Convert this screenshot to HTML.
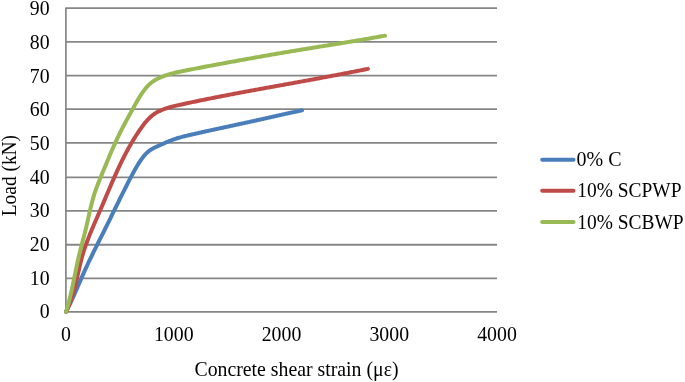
<!DOCTYPE html>
<html><head><meta charset="utf-8"><style>
html,body{margin:0;padding:0;background:#fff;}
svg{display:block;will-change:transform;}
text{font-family:"Liberation Serif",serif;font-size:19.8px;fill:#000;}
</style></head><body>
<svg width="685" height="382" viewBox="0 0 685 382">
<line x1="66.0" y1="278.40" x2="497.0" y2="278.40" stroke="#868686" stroke-width="1.8"/>
<line x1="66.0" y1="244.75" x2="497.0" y2="244.75" stroke="#868686" stroke-width="1.8"/>
<line x1="66.0" y1="210.90" x2="497.0" y2="210.90" stroke="#868686" stroke-width="1.8"/>
<line x1="66.0" y1="177.40" x2="497.0" y2="177.40" stroke="#868686" stroke-width="1.8"/>
<line x1="66.0" y1="142.80" x2="497.0" y2="142.80" stroke="#868686" stroke-width="1.8"/>
<line x1="66.0" y1="109.20" x2="497.0" y2="109.20" stroke="#868686" stroke-width="1.8"/>
<line x1="66.0" y1="75.60" x2="497.0" y2="75.60" stroke="#868686" stroke-width="1.8"/>
<line x1="66.0" y1="41.80" x2="497.0" y2="41.80" stroke="#868686" stroke-width="1.8"/>
<line x1="66.0" y1="8.20" x2="497.0" y2="8.20" stroke="#868686" stroke-width="1.8"/>
<line x1="65.9" y1="7.5" x2="65.9" y2="312.60" stroke="#868686" stroke-width="1.7"/>
<line x1="66.0" y1="311.80" x2="497.0" y2="311.80" stroke="#868686" stroke-width="1.8"/>
<text transform="translate(49.60,318.35) scale(1,1.06)" text-anchor="end">0</text>
<text transform="translate(49.60,284.66) scale(1,1.06)" text-anchor="end">10</text>
<text transform="translate(49.60,250.97) scale(1,1.06)" text-anchor="end">20</text>
<text transform="translate(49.60,217.28) scale(1,1.06)" text-anchor="end">30</text>
<text transform="translate(49.60,183.59) scale(1,1.06)" text-anchor="end">40</text>
<text transform="translate(49.60,149.90) scale(1,1.06)" text-anchor="end">50</text>
<text transform="translate(49.60,116.21) scale(1,1.06)" text-anchor="end">60</text>
<text transform="translate(49.60,82.52) scale(1,1.06)" text-anchor="end">70</text>
<text transform="translate(49.60,48.83) scale(1,1.06)" text-anchor="end">80</text>
<text transform="translate(49.60,15.14) scale(1,1.06)" text-anchor="end">90</text>
<text transform="translate(66.00,341.00) scale(1,1.03)" text-anchor="middle">0</text>
<text transform="translate(173.75,341.00) scale(1,1.03)" text-anchor="middle">1000</text>
<text transform="translate(281.50,341.00) scale(1,1.03)" text-anchor="middle">2000</text>
<text transform="translate(389.25,341.00) scale(1,1.03)" text-anchor="middle">3000</text>
<text transform="translate(497.00,341.00) scale(1,1.03)" text-anchor="middle">4000</text>
<text transform="translate(296.50,375.80) scale(1,1.02)" text-anchor="middle">Concrete shear strain (με)</text>
<text transform="translate(15.7,175.6) rotate(-90) scale(1,1.1)" text-anchor="middle" style="font-size:19.4px">Load (kN)</text>
<path d="M66.01,311.81 L66.41,311.04 L66.81,310.28 L67.20,309.51 L67.59,308.74 L67.97,307.98 L68.36,307.21 L68.74,306.44 L69.11,305.67 L69.49,304.90 L69.86,304.13 L70.23,303.35 L70.60,302.58 L70.96,301.81 L71.32,301.04 L71.68,300.26 L72.04,299.49 L72.40,298.71 L72.75,297.94 L73.11,297.16 L73.46,296.39 L73.81,295.61 L74.15,294.83 L74.50,294.06 L74.85,293.28 L75.19,292.50 L75.53,291.72 L75.88,290.95 L76.22,290.17 L76.56,289.39 L76.90,288.61 L77.24,287.83 L77.57,287.05 L77.91,286.27 L78.25,285.49 L78.59,284.71 L78.92,283.94 L79.26,283.16 L79.60,282.38 L79.94,281.60 L80.27,280.82 L80.61,280.04 L80.95,279.26 L81.29,278.48 L81.63,277.70 L81.97,276.93 L82.31,276.15 L82.65,275.37 L82.99,274.59 L83.34,273.82 L83.68,273.04 L84.03,272.26 L84.37,271.49 L84.72,270.71 L85.07,269.93 L85.43,269.16 L85.78,268.38 L86.13,267.61 L86.49,266.84 L86.85,266.06 L87.21,265.29 L87.57,264.52 L87.93,263.74 L88.29,262.97 L88.66,262.20 L89.03,261.43 L89.39,260.66 L89.76,259.89 L90.13,259.11 L90.50,258.34 L90.87,257.57 L91.24,256.81 L91.62,256.04 L91.99,255.27 L92.37,254.50 L92.74,253.73 L93.12,252.96 L93.50,252.19 L93.87,251.43 L94.25,250.66 L94.63,249.89 L95.01,249.12 L95.39,248.36 L95.77,247.59 L96.15,246.82 L96.54,246.06 L96.92,245.29 L97.30,244.53 L97.68,243.76 L98.07,242.99 L98.45,242.23 L98.83,241.46 L99.22,240.70 L99.60,239.93 L99.98,239.17 L100.37,238.41 L100.75,237.64 L101.13,236.88 L101.52,236.11 L101.90,235.35 L102.29,234.58 L102.67,233.82 L103.05,233.06 L103.43,232.29 L103.82,231.53 L104.20,230.77 L104.58,230.00 L104.96,229.24 L105.34,228.47 L105.72,227.71 L106.10,226.95 L106.48,226.18 L106.86,225.42 L107.23,224.66 L107.61,223.89 L107.99,223.13 L108.36,222.37 L108.74,221.60 L109.12,220.84 L109.49,220.08 L109.87,219.31 L110.24,218.55 L110.62,217.79 L110.99,217.02 L111.37,216.26 L111.74,215.50 L112.11,214.73 L112.49,213.97 L112.86,213.21 L113.23,212.45 L113.61,211.68 L113.98,210.92 L114.36,210.16 L114.73,209.39 L115.10,208.63 L115.48,207.87 L115.85,207.10 L116.22,206.34 L116.60,205.58 L116.97,204.81 L117.35,204.05 L117.72,203.29 L118.10,202.53 L118.47,201.76 L118.85,201.00 L119.23,200.24 L119.60,199.47 L119.98,198.71 L120.36,197.95 L120.74,197.19 L121.11,196.42 L121.49,195.66 L121.87,194.90 L122.25,194.13 L122.63,193.37 L123.01,192.61 L123.40,191.85 L123.78,191.08 L124.16,190.32 L124.55,189.56 L124.93,188.79 L125.32,188.03 L125.70,187.27 L126.09,186.51 L126.48,185.74 L126.87,184.98 L127.26,184.22 L127.65,183.46 L128.04,182.69 L128.43,181.93 L128.82,181.17 L129.22,180.40 L129.62,179.64 L130.01,178.88 L130.41,178.12 L130.81,177.35 L131.21,176.59 L131.61,175.83 L132.01,175.07 L132.42,174.30 L132.83,173.54 L133.24,172.78 L133.65,172.03 L134.06,171.27 L134.48,170.52 L134.90,169.76 L135.32,169.01 L135.75,168.26 L136.18,167.52 L136.61,166.78 L137.05,166.04 L137.50,165.30 L137.94,164.57 L138.40,163.84 L138.85,163.12 L139.31,162.39 L139.78,161.68 L140.26,160.97 L140.73,160.26 L141.22,159.56 L141.71,158.87 L142.22,158.19 L142.73,157.51 L143.25,156.85 L143.78,156.20 L144.32,155.56 L144.87,154.93 L145.44,154.31 L146.02,153.71 L146.61,153.12 L147.21,152.55 L147.83,152.00 L148.47,151.47 L149.12,150.95 L149.78,150.45 L150.47,149.97 L151.17,149.52 L151.88,149.08 L152.61,148.65 L153.36,148.24 L154.11,147.85 L154.87,147.46 L155.65,147.09 L156.42,146.72 L157.21,146.36 L158.00,146.01 L158.79,145.66 L159.58,145.31 L160.37,144.96 L161.17,144.60 L161.96,144.25 L162.75,143.90 L163.54,143.56 L164.34,143.21 L165.13,142.86 L165.92,142.52 L166.72,142.18 L167.51,141.85 L168.31,141.52 L169.11,141.19 L169.90,140.87 L170.70,140.55 L171.50,140.24 L172.31,139.94 L173.11,139.64 L173.91,139.35 L174.72,139.07 L175.53,138.80 L176.34,138.53 L177.15,138.28 L177.96,138.03 L178.78,137.79 L179.60,137.55 L180.42,137.32 L181.23,137.10 L182.06,136.88 L182.88,136.66 L183.70,136.45 L184.52,136.25 L185.35,136.05 L186.17,135.85 L187.00,135.65 L187.83,135.45 L188.65,135.26 L189.48,135.07 L190.31,134.88 L191.14,134.69 L191.97,134.50 L192.80,134.31 L193.63,134.12 L194.46,133.93 L195.29,133.74 L196.12,133.55 L196.95,133.37 L197.78,133.18 L198.61,132.99 L199.44,132.80 L200.27,132.62 L201.10,132.43 L201.93,132.25 L202.76,132.06 L203.60,131.88 L204.43,131.69 L205.26,131.51 L206.09,131.32 L206.93,131.14 L207.76,130.96 L208.59,130.77 L209.43,130.59 L210.26,130.41 L211.09,130.22 L211.93,130.04 L212.76,129.86 L213.60,129.68 L214.43,129.49 L215.26,129.31 L216.10,129.13 L216.93,128.95 L217.77,128.77 L218.60,128.59 L219.44,128.41 L220.27,128.23 L221.11,128.05 L221.94,127.86 L222.78,127.68 L223.61,127.50 L224.45,127.32 L225.28,127.14 L226.12,126.96 L226.95,126.78 L227.79,126.60 L228.63,126.42 L229.46,126.24 L230.30,126.06 L231.13,125.88 L231.97,125.70 L232.80,125.52 L233.64,125.34 L234.47,125.16 L235.31,124.98 L236.15,124.80 L236.98,124.62 L237.82,124.44 L238.65,124.26 L239.49,124.08 L240.32,123.90 L241.16,123.72 L241.99,123.54 L242.83,123.36 L243.66,123.18 L244.50,123.00 L245.33,122.82 L246.17,122.63 L247.00,122.45 L247.84,122.27 L248.67,122.09 L249.51,121.91 L250.34,121.72 L251.18,121.54 L252.01,121.36 L252.85,121.18 L253.68,120.99 L254.51,120.81 L255.35,120.62 L256.18,120.44 L257.01,120.26 L257.85,120.07 L258.68,119.89 L259.51,119.70 L260.35,119.52 L261.18,119.33 L262.01,119.14 L262.84,118.96 L263.67,118.77 L264.51,118.58 L265.34,118.40 L266.17,118.21 L267.00,118.02 L267.83,117.84 L268.66,117.65 L269.50,117.46 L270.33,117.27 L271.16,117.09 L271.99,116.90 L272.82,116.71 L273.65,116.52 L274.48,116.34 L275.32,116.15 L276.15,115.96 L276.98,115.77 L277.81,115.59 L278.64,115.40 L279.47,115.22 L280.31,115.03 L281.14,114.84 L281.97,114.66 L282.80,114.47 L283.64,114.29 L284.47,114.11 L285.30,113.92 L286.14,113.74 L286.97,113.56 L287.80,113.38 L288.64,113.19 L289.47,113.01 L290.31,112.83 L291.14,112.65 L291.98,112.48 L292.81,112.30 L293.65,112.12 L294.48,111.94 L295.32,111.77 L296.16,111.59 L296.99,111.42 L297.83,111.24 L298.67,111.07 L299.51,110.90 L300.35,110.73 L301.19,110.56 L302.03,110.39" fill="none" stroke="#4A7EBB" stroke-width="4.0" stroke-linecap="round" stroke-linejoin="round"/>
<path d="M65.99,311.79 L66.48,310.81 L66.96,309.82 L67.43,308.82 L67.88,307.82 L68.33,306.82 L68.76,305.81 L69.17,304.80 L69.58,303.78 L69.98,302.76 L70.36,301.73 L70.73,300.71 L71.10,299.67 L71.45,298.64 L71.80,297.60 L72.13,296.55 L72.46,295.51 L72.78,294.46 L73.10,293.41 L73.40,292.35 L73.70,291.29 L73.99,290.24 L74.28,289.17 L74.56,288.11 L74.83,287.04 L75.10,285.98 L75.37,284.91 L75.63,283.84 L75.89,282.77 L76.15,281.69 L76.40,280.62 L76.65,279.55 L76.90,278.47 L77.14,277.39 L77.39,276.32 L77.63,275.24 L77.87,274.16 L78.12,273.09 L78.36,272.01 L78.60,270.94 L78.85,269.86 L79.10,268.79 L79.35,267.71 L79.60,266.64 L79.85,265.57 L80.11,264.50 L80.37,263.43 L80.63,262.36 L80.90,261.29 L81.17,260.23 L81.45,259.17 L81.73,258.11 L82.02,257.05 L82.32,255.99 L82.62,254.94 L82.93,253.89 L83.24,252.84 L83.57,251.80 L83.90,250.76 L84.23,249.72 L84.57,248.68 L84.92,247.65 L85.27,246.61 L85.63,245.58 L86.00,244.56 L86.36,243.53 L86.74,242.50 L87.12,241.48 L87.50,240.46 L87.89,239.44 L88.28,238.42 L88.68,237.41 L89.08,236.39 L89.48,235.38 L89.89,234.37 L90.30,233.35 L90.71,232.34 L91.13,231.34 L91.55,230.33 L91.97,229.32 L92.40,228.31 L92.82,227.31 L93.25,226.30 L93.68,225.30 L94.11,224.29 L94.55,223.29 L94.98,222.28 L95.42,221.28 L95.85,220.27 L96.29,219.27 L96.73,218.27 L97.17,217.26 L97.60,216.26 L98.04,215.25 L98.48,214.25 L98.92,213.24 L99.35,212.24 L99.79,211.23 L100.22,210.22 L100.66,209.21 L101.09,208.20 L101.52,207.19 L101.95,206.18 L102.39,205.17 L102.82,204.16 L103.24,203.15 L103.67,202.14 L104.10,201.13 L104.53,200.11 L104.96,199.10 L105.39,198.09 L105.82,197.08 L106.24,196.06 L106.67,195.05 L107.10,194.04 L107.53,193.02 L107.96,192.01 L108.39,191.00 L108.82,189.98 L109.25,188.97 L109.68,187.96 L110.12,186.95 L110.55,185.94 L110.98,184.93 L111.42,183.92 L111.86,182.91 L112.29,181.90 L112.73,180.89 L113.17,179.88 L113.62,178.87 L114.06,177.87 L114.50,176.86 L114.95,175.86 L115.40,174.86 L115.85,173.85 L116.30,172.85 L116.76,171.85 L117.21,170.85 L117.67,169.85 L118.13,168.86 L118.60,167.86 L119.06,166.87 L119.53,165.88 L120.00,164.88 L120.47,163.89 L120.95,162.91 L121.43,161.92 L121.91,160.93 L122.40,159.95 L122.88,158.97 L123.38,157.99 L123.87,157.01 L124.37,156.04 L124.87,155.06 L125.37,154.09 L125.88,153.12 L126.39,152.15 L126.91,151.19 L127.43,150.22 L127.95,149.26 L128.48,148.30 L129.01,147.35 L129.55,146.39 L130.09,145.44 L130.63,144.49 L131.18,143.54 L131.73,142.60 L132.29,141.66 L132.85,140.72 L133.42,139.78 L133.99,138.85 L134.56,137.92 L135.15,136.99 L135.73,136.06 L136.32,135.14 L136.92,134.22 L137.52,133.31 L138.13,132.39 L138.74,131.48 L139.36,130.58 L139.98,129.67 L140.61,128.77 L141.25,127.88 L141.89,126.98 L142.54,126.10 L143.19,125.21 L143.86,124.34 L144.53,123.48 L145.22,122.62 L145.92,121.78 L146.63,120.96 L147.35,120.15 L148.09,119.35 L148.85,118.57 L149.62,117.81 L150.41,117.08 L151.21,116.36 L152.04,115.67 L152.89,115.00 L153.76,114.36 L154.65,113.75 L155.56,113.16 L156.49,112.60 L157.44,112.07 L158.41,111.56 L159.39,111.07 L160.39,110.60 L161.40,110.16 L162.42,109.74 L163.45,109.34 L164.48,108.95 L165.52,108.59 L166.57,108.24 L167.62,107.90 L168.68,107.58 L169.74,107.28 L170.81,106.98 L171.87,106.70 L172.95,106.43 L174.02,106.16 L175.10,105.90 L176.17,105.65 L177.25,105.41 L178.33,105.16 L179.41,104.92 L180.49,104.69 L181.57,104.45 L182.65,104.21 L183.73,103.98 L184.81,103.74 L185.89,103.51 L186.97,103.28 L188.05,103.05 L189.13,102.82 L190.21,102.59 L191.28,102.36 L192.36,102.13 L193.44,101.90 L194.52,101.68 L195.60,101.45 L196.67,101.23 L197.75,101.00 L198.83,100.78 L199.91,100.56 L200.98,100.33 L202.06,100.11 L203.14,99.89 L204.21,99.67 L205.29,99.46 L206.37,99.24 L207.44,99.02 L208.52,98.80 L209.60,98.59 L210.67,98.37 L211.75,98.16 L212.82,97.94 L213.90,97.73 L214.98,97.52 L216.05,97.31 L217.13,97.09 L218.20,96.88 L219.28,96.67 L220.35,96.46 L221.43,96.25 L222.50,96.05 L223.58,95.84 L224.65,95.63 L225.73,95.42 L226.80,95.22 L227.88,95.01 L228.95,94.81 L230.03,94.60 L231.10,94.40 L232.18,94.19 L233.25,93.99 L234.33,93.78 L235.40,93.58 L236.48,93.38 L237.55,93.18 L238.63,92.98 L239.70,92.77 L240.77,92.57 L241.85,92.37 L242.92,92.17 L244.00,91.97 L245.07,91.77 L246.15,91.57 L247.22,91.38 L248.30,91.18 L249.37,90.98 L250.45,90.78 L251.52,90.58 L252.60,90.39 L253.67,90.19 L254.75,89.99 L255.82,89.80 L256.90,89.60 L257.97,89.40 L259.05,89.21 L260.12,89.01 L261.20,88.81 L262.27,88.62 L263.35,88.42 L264.42,88.23 L265.50,88.03 L266.57,87.84 L267.65,87.64 L268.73,87.45 L269.80,87.25 L270.88,87.06 L271.95,86.86 L273.03,86.67 L274.11,86.48 L275.18,86.28 L276.26,86.09 L277.33,85.89 L278.41,85.70 L279.49,85.50 L280.56,85.31 L281.64,85.11 L282.72,84.92 L283.80,84.73 L284.87,84.53 L285.95,84.34 L287.03,84.14 L288.11,83.95 L289.18,83.75 L290.26,83.56 L291.34,83.36 L292.42,83.17 L293.50,82.97 L294.58,82.78 L295.66,82.58 L296.73,82.38 L297.81,82.19 L298.89,81.99 L299.97,81.79 L301.05,81.60 L302.13,81.40 L303.21,81.20 L304.29,81.01 L305.37,80.81 L306.45,80.61 L307.54,80.41 L308.62,80.21 L309.70,80.02 L310.78,79.82 L311.86,79.62 L312.94,79.42 L314.02,79.22 L315.10,79.02 L316.18,78.82 L317.27,78.62 L318.35,78.42 L319.43,78.22 L320.51,78.02 L321.59,77.82 L322.67,77.62 L323.75,77.41 L324.83,77.21 L325.92,77.01 L327.00,76.81 L328.08,76.60 L329.16,76.40 L330.24,76.20 L331.32,75.99 L332.40,75.79 L333.48,75.59 L334.56,75.38 L335.64,75.18 L336.72,74.97 L337.80,74.77 L338.88,74.56 L339.96,74.35 L341.03,74.15 L342.11,73.94 L343.19,73.74 L344.27,73.53 L345.35,73.32 L346.42,73.11 L347.50,72.91 L348.58,72.70 L349.65,72.49 L350.73,72.28 L351.81,72.07 L352.88,71.86 L353.96,71.65 L355.03,71.44 L356.10,71.23 L357.18,71.02 L358.25,70.81 L359.32,70.60 L360.40,70.38 L361.47,70.17 L362.54,69.96 L363.61,69.75 L364.68,69.53 L365.75,69.32 L366.82,69.11 L367.89,68.89" fill="none" stroke="#BE4B48" stroke-width="4.0" stroke-linecap="round" stroke-linejoin="round"/>
<path d="M66.00,311.80 L66.37,310.64 L66.73,309.47 L67.08,308.30 L67.42,307.14 L67.75,305.96 L68.08,304.79 L68.40,303.62 L68.72,302.44 L69.03,301.26 L69.33,300.08 L69.63,298.90 L69.92,297.71 L70.21,296.53 L70.49,295.34 L70.77,294.16 L71.04,292.97 L71.31,291.78 L71.58,290.59 L71.84,289.40 L72.10,288.21 L72.36,287.01 L72.61,285.82 L72.86,284.63 L73.11,283.43 L73.36,282.24 L73.60,281.04 L73.85,279.85 L74.09,278.65 L74.33,277.46 L74.58,276.26 L74.82,275.06 L75.06,273.87 L75.31,272.67 L75.55,271.48 L75.79,270.28 L76.04,269.09 L76.29,267.89 L76.54,266.70 L76.79,265.51 L77.04,264.32 L77.30,263.13 L77.55,261.93 L77.82,260.75 L78.08,259.56 L78.35,258.37 L78.62,257.18 L78.90,256.00 L79.18,254.82 L79.47,253.63 L79.76,252.45 L80.05,251.27 L80.35,250.10 L80.65,248.92 L80.95,247.74 L81.25,246.56 L81.56,245.39 L81.87,244.21 L82.18,243.04 L82.49,241.86 L82.80,240.69 L83.11,239.51 L83.42,238.33 L83.72,237.16 L84.03,235.98 L84.34,234.80 L84.64,233.62 L84.94,232.44 L85.24,231.26 L85.53,230.08 L85.82,228.89 L86.11,227.71 L86.39,226.52 L86.66,225.33 L86.94,224.14 L87.21,222.95 L87.48,221.76 L87.75,220.57 L88.01,219.37 L88.28,218.18 L88.54,216.98 L88.81,215.79 L89.07,214.60 L89.34,213.40 L89.61,212.21 L89.88,211.02 L90.16,209.83 L90.43,208.64 L90.71,207.45 L91.00,206.26 L91.29,205.08 L91.58,203.89 L91.88,202.71 L92.19,201.53 L92.50,200.36 L92.83,199.18 L93.15,198.01 L93.49,196.84 L93.84,195.68 L94.19,194.51 L94.56,193.36 L94.93,192.20 L95.32,191.05 L95.71,189.90 L96.12,188.76 L96.54,187.62 L96.97,186.49 L97.40,185.35 L97.85,184.22 L98.30,183.09 L98.75,181.97 L99.21,180.84 L99.67,179.72 L100.14,178.59 L100.60,177.47 L101.06,176.34 L101.53,175.21 L101.99,174.08 L102.45,172.96 L102.91,171.83 L103.38,170.70 L103.84,169.57 L104.30,168.44 L104.77,167.31 L105.23,166.18 L105.70,165.05 L106.16,163.92 L106.63,162.79 L107.10,161.66 L107.57,160.54 L108.04,159.41 L108.51,158.28 L108.99,157.16 L109.46,156.03 L109.94,154.91 L110.42,153.78 L110.90,152.66 L111.38,151.54 L111.87,150.42 L112.35,149.30 L112.84,148.18 L113.34,147.07 L113.83,145.95 L114.33,144.84 L114.83,143.73 L115.34,142.62 L115.85,141.51 L116.36,140.41 L116.87,139.30 L117.39,138.20 L117.91,137.10 L118.44,136.01 L118.97,134.91 L119.50,133.82 L120.04,132.74 L120.59,131.65 L121.13,130.57 L121.68,129.49 L122.24,128.41 L122.80,127.33 L123.36,126.26 L123.93,125.19 L124.50,124.12 L125.07,123.05 L125.64,121.98 L126.22,120.91 L126.80,119.85 L127.38,118.78 L127.96,117.72 L128.55,116.65 L129.13,115.58 L129.72,114.52 L130.31,113.45 L130.90,112.38 L131.49,111.32 L132.08,110.25 L132.67,109.18 L133.26,108.10 L133.84,107.03 L134.43,105.95 L135.03,104.88 L135.62,103.80 L136.22,102.73 L136.82,101.66 L137.43,100.59 L138.05,99.53 L138.67,98.47 L139.30,97.42 L139.94,96.38 L140.60,95.34 L141.26,94.31 L141.94,93.30 L142.63,92.29 L143.34,91.30 L144.07,90.32 L144.81,89.35 L145.57,88.41 L146.35,87.48 L147.16,86.58 L147.99,85.70 L148.84,84.85 L149.72,84.03 L150.62,83.24 L151.55,82.48 L152.51,81.76 L153.51,81.08 L154.52,80.44 L155.57,79.83 L156.63,79.24 L157.71,78.69 L158.81,78.17 L159.93,77.67 L161.05,77.19 L162.18,76.74 L163.32,76.30 L164.47,75.88 L165.62,75.48 L166.77,75.10 L167.93,74.73 L169.10,74.37 L170.27,74.03 L171.44,73.71 L172.61,73.39 L173.80,73.09 L174.98,72.79 L176.17,72.51 L177.35,72.24 L178.55,71.97 L179.74,71.71 L180.93,71.46 L182.13,71.21 L183.33,70.97 L184.53,70.73 L185.73,70.49 L186.93,70.26 L188.13,70.02 L189.33,69.79 L190.53,69.56 L191.73,69.32 L192.93,69.09 L194.13,68.86 L195.33,68.63 L196.53,68.40 L197.73,68.17 L198.93,67.93 L200.13,67.71 L201.33,67.48 L202.53,67.25 L203.72,67.02 L204.92,66.79 L206.12,66.56 L207.32,66.33 L208.52,66.11 L209.72,65.88 L210.92,65.65 L212.12,65.43 L213.31,65.20 L214.51,64.97 L215.71,64.75 L216.91,64.52 L218.11,64.30 L219.30,64.08 L220.50,63.85 L221.70,63.63 L222.90,63.41 L224.10,63.18 L225.29,62.96 L226.49,62.74 L227.69,62.52 L228.89,62.30 L230.09,62.08 L231.28,61.86 L232.48,61.64 L233.68,61.42 L234.88,61.20 L236.08,60.98 L237.27,60.76 L238.47,60.54 L239.67,60.33 L240.87,60.11 L242.06,59.89 L243.26,59.68 L244.46,59.46 L245.66,59.24 L246.86,59.03 L248.05,58.81 L249.25,58.60 L250.45,58.39 L251.65,58.17 L252.85,57.96 L254.04,57.74 L255.24,57.53 L256.44,57.32 L257.64,57.11 L258.84,56.90 L260.04,56.69 L261.23,56.47 L262.43,56.26 L263.63,56.05 L264.83,55.84 L266.03,55.64 L267.23,55.43 L268.43,55.22 L269.63,55.01 L270.83,54.80 L272.03,54.59 L273.23,54.39 L274.42,54.18 L275.62,53.97 L276.82,53.77 L278.02,53.56 L279.22,53.36 L280.42,53.15 L281.62,52.95 L282.82,52.75 L284.03,52.54 L285.23,52.34 L286.43,52.14 L287.63,51.93 L288.83,51.73 L290.03,51.53 L291.23,51.33 L292.43,51.13 L293.63,50.93 L294.84,50.73 L296.04,50.53 L297.24,50.33 L298.44,50.13 L299.65,49.93 L300.85,49.73 L302.05,49.54 L303.25,49.34 L304.46,49.14 L305.66,48.94 L306.86,48.75 L308.07,48.55 L309.27,48.35 L310.48,48.16 L311.68,47.96 L312.88,47.77 L314.09,47.57 L315.29,47.38 L316.50,47.18 L317.70,46.99 L318.91,46.79 L320.11,46.60 L321.31,46.40 L322.52,46.21 L323.72,46.02 L324.93,45.82 L326.13,45.63 L327.34,45.43 L328.54,45.24 L329.75,45.04 L330.95,44.85 L332.16,44.65 L333.36,44.46 L334.57,44.26 L335.77,44.07 L336.97,43.87 L338.18,43.68 L339.38,43.48 L340.59,43.29 L341.79,43.09 L343.00,42.89 L344.20,42.70 L345.40,42.50 L346.61,42.30 L347.81,42.10 L349.01,41.90 L350.22,41.71 L351.42,41.51 L352.62,41.31 L353.83,41.11 L355.03,40.91 L356.23,40.70 L357.43,40.50 L358.63,40.30 L359.84,40.10 L361.04,39.90 L362.24,39.69 L363.44,39.49 L364.64,39.28 L365.84,39.08 L367.04,38.87 L368.24,38.66 L369.44,38.46 L370.64,38.25 L371.84,38.04 L373.04,37.83 L374.24,37.62 L375.44,37.40 L376.63,37.19 L377.83,36.98 L379.03,36.77 L380.23,36.55 L381.42,36.33 L382.62,36.12 L383.81,35.90 L385.01,35.68" fill="none" stroke="#98B954" stroke-width="4.0" stroke-linecap="round" stroke-linejoin="round"/>
<line x1="542.2" y1="159.70" x2="573.5" y2="159.70" stroke="#4A7EBB" stroke-width="4.0" stroke-linecap="round"/>
<text transform="translate(576.50,165.80) scale(1,1.07)" text-anchor="start" style="font-size:20.0px">0% C</text>
<line x1="542.2" y1="190.85" x2="573.5" y2="190.85" stroke="#BE4B48" stroke-width="4.0" stroke-linecap="round"/>
<text transform="translate(577.30,197.45) scale(1,1.07)" text-anchor="start" style="font-size:19.45px">10% SCPWP</text>
<line x1="542.2" y1="222.00" x2="573.5" y2="222.00" stroke="#98B954" stroke-width="4.0" stroke-linecap="round"/>
<text transform="translate(577.30,228.60) scale(1,1.07)" text-anchor="start" style="font-size:19.45px">10% SCBWP</text>
</svg>
</body></html>
